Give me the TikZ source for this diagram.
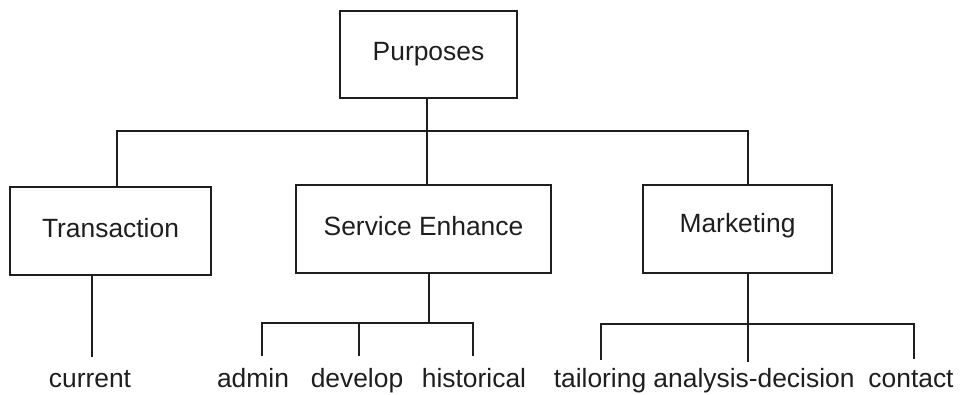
\documentclass[tikz,border=0pt]{standalone}
\usepackage{fontspec}
\setmainfont{Liberation Sans}
\definecolor{ink}{HTML}{1E1E1E}
\begin{document}
\begin{tikzpicture}[x=1pt,y=-1pt,
  every node/.style={font=\fontsize{26.4}{30}\selectfont, text=ink},
  box/.style={draw=ink, line width=1.2pt, rectangle, inner sep=0pt, text height=19pt, text depth=7pt},
  leaf/.style={anchor=base, inner sep=0pt, text height=19pt, text depth=6pt},
  conn/.style={draw=ink, line width=1.2pt}]
\useasboundingbox (0,0) rectangle (962,394);
% boxes
\node[box, minimum width=177pt, minimum height=87pt] (P) at (428.5,54.5) {Purposes};
\node[box, minimum width=201pt, minimum height=88pt] (T) at (110.5,231) {Transaction};
\node[box, minimum width=255pt, minimum height=88pt] (S) at (423.5,229) {Service Enhance};
\node[box, minimum width=189pt, minimum height=88pt, text depth=13pt] (M) at (737.5,229) {Marketing};
% leaves
\node[leaf] (cur) at (90,387) {current};
\node[leaf] (adm) at (253,387) {admin};
\node[leaf] (dev) at (357,387) {develop};
\node[leaf] (his) at (474,387) {historical};
\node[leaf] (tai) at (600,387) {tailoring};
\node[leaf] (ana) at (754,387) {analysis-decision};
\node[leaf] (con) at (911,387) {contact};
% top level bus
\coordinate (pstem) at (427,98);
\coordinate (b1) at (117,131);
\coordinate (b2) at (748,131);
\draw[conn] (pstem) -- (pstem |- S.north);
\draw[conn] (T.north -| b1) -- (b1) -- (b2) -- (M.north -| b2);
% transaction
\coordinate (tstem) at (92,275);
\coordinate (tend) at (92,357);
\draw[conn] (tstem) -- (tend);
% service enhance
\coordinate (sstem) at (429,273);
\coordinate (sb1) at (262,323);
\coordinate (sb2) at (473,323);
\coordinate (sd1) at (262,356);
\coordinate (sd2) at (359,356);
\coordinate (sd3) at (473,356);
\draw[conn] (sstem) -- (sstem |- sb1);
\draw[conn] (sd1) -- (sb1) -- (sb2) -- (sd3);
\draw[conn] (sd2 |- sb1) -- (sd2);
% marketing
\coordinate (mstem) at (748,273);
\coordinate (mb1) at (601,324);
\coordinate (mb2) at (914,324);
\coordinate (md1) at (601,360);
\coordinate (md2) at (748,362);
\coordinate (md3) at (914,359);
\draw[conn] (mstem) -- (md2);
\draw[conn] (md1) -- (mb1) -- (mb2) -- (md3);
\end{tikzpicture}
\end{document}
